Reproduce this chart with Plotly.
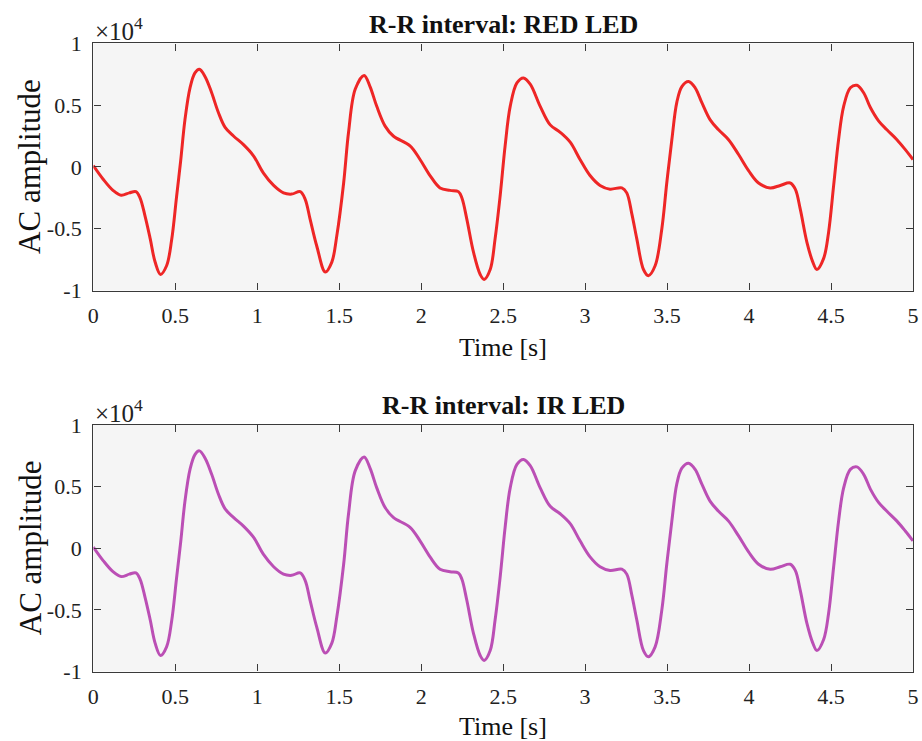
import plotly.graph_objects as go

# Time axis (s) and AC amplitude (raw units; axis shows x10^4)
time_s = [0.00, 0.06, 0.12, 0.17, 0.22, 0.26, 0.285, 0.316, 0.347, 0.377, 0.41, 0.447, 0.478, 0.508,
          0.533, 0.559, 0.59, 0.62, 0.647, 0.682, 0.722, 0.763, 0.804, 0.855, 0.916, 0.977, 1.038,
          1.10, 1.16, 1.21, 1.262, 1.292, 1.322, 1.363, 1.415, 1.455, 1.485, 1.527, 1.557, 1.598,
          1.652, 1.688, 1.729, 1.78, 1.83, 1.932, 1.993, 2.054, 2.115, 2.176, 2.227, 2.248, 2.278,
          2.319, 2.36, 2.384, 2.421, 2.451, 2.482, 2.512, 2.543, 2.584, 2.624, 2.665, 2.726, 2.787,
          2.848, 2.909, 2.969, 3.03, 3.091, 3.152, 3.224, 3.254, 3.285, 3.315, 3.356, 3.386, 3.427,
          3.468, 3.498, 3.529, 3.559, 3.59, 3.631, 3.671, 3.712, 3.763, 3.814, 3.875, 3.936, 3.997,
          4.058, 4.129, 4.19, 4.251, 4.282, 4.312, 4.353, 4.389, 4.414, 4.455, 4.485, 4.516, 4.546,
          4.577, 4.618, 4.658, 4.699, 4.74, 4.791, 4.841, 4.902, 4.953, 5.0]

red_amp = [100, -1000, -1900, -2300, -2100, -2000, -2500, -4000, -5800, -7700, -8700, -8000, -5900, -2400,
           500, 3800, 6400, 7600, 7900, 7300, 6000, 4400, 3200, 2500, 1800, 900, -500,
           -1500, -2100, -2200, -2000, -2600, -4200, -6400, -8500, -7700, -5600, -1300, 2800, 6300,
           7400, 6500, 4900, 3300, 2500, 1700, 600, -700, -1700, -1900, -2000, -2500, -4200,
           -6900, -8700, -9100, -8300, -5800, -2300, 1700, 4900, 6800, 7200, 6700, 4900, 3400,
           2800, 2000, 600, -700, -1500, -1800, -1700, -2100, -3800, -5800, -8300, -8800, -8000,
           -5000, -1300, 2200, 5200, 6500, 6900, 6400, 5200, 3800, 3000, 2200, 1000, -300,
           -1300, -1700, -1500, -1300, -1800, -3400, -6100, -7700, -8300, -7400, -5300, -1500, 2200,
           4900, 6400, 6600, 6000, 4800, 3700, 3000, 2200, 1400, 600]

# IR LED trace reads identical to the RED LED trace in the picture
ir_amp = list(red_amp)

x_ticks = [0, 0.5, 1, 1.5, 2, 2.5, 3, 3.5, 4, 4.5, 5]
x_ticktext = ["0", "0.5", "1", "1.5", "2", "2.5", "3", "3.5", "4", "4.5", "5"]
y_ticks = [-10000, -5000, 0, 5000, 10000]
y_ticktext = ["-1", "-0.5", "0", "0.5", "1"]

titles = ["R-R interval: RED LED", "R-R interval: IR LED"]
W, H = 922, 741
FONT = "Liberation Serif"
AX = "#3a3a3a"

fig = go.Figure()
fig.add_trace(go.Scatter(x=time_s, y=red_amp, mode="lines", xaxis="x", yaxis="y",
                         line=dict(color="#EE2626", width=3, shape="spline", smoothing=1),
                         showlegend=False, hoverinfo="skip"))
fig.add_trace(go.Scatter(x=time_s, y=ir_amp, mode="lines", xaxis="x2", yaxis="y2",
                         line=dict(color="#BB4FB5", width=3, shape="spline", smoothing=1),
                         showlegend=False, hoverinfo="skip"))

left, right = 93.3, 913
panels = [(43.3, 290.5), (425, 671.5)]
xlabel_gap = [57, 55]

def xax(anchor, dom):
    return dict(domain=dom, anchor=anchor, range=[0, 5], tickvals=x_ticks, ticktext=x_ticktext,
                ticks="inside", ticklen=7, tickwidth=1.2, tickcolor=AX, showline=True, linecolor=AX,
                linewidth=1.4, mirror="ticks", showgrid=False, zeroline=False, ticklabelstandoff=5,
                automargin=False,
                tickfont=dict(family=FONT, size=22, color="#222222"), fixedrange=True)

def yax(anchor, dom):
    return dict(domain=dom, anchor=anchor, range=[-10000, 10000], tickvals=y_ticks, ticktext=y_ticktext,
                ticks="inside", ticklen=7, tickwidth=1.2, tickcolor=AX, showline=True, linecolor=AX,
                linewidth=1.4, mirror="ticks", showgrid=False, zeroline=False, ticklabelstandoff=6,
                automargin=False,
                tickfont=dict(family=FONT, size=22, color="#222222"), fixedrange=True)

xdom = [left / W, right / W]
ydoms = [[1 - b / H, 1 - t / H] for (t, b) in panels]

annotations = []
cx = (left + right) / 2 / W
for i, (t, b) in enumerate(panels):
    annotations.append(dict(text="<b>" + titles[i] + "</b>", xref="paper", yref="paper",
                            x=cx, y=1 - (t - 19) / H, xanchor="center", yanchor="middle",
                            showarrow=False, font=dict(family=FONT, size=26, color="#111111")))
    annotations.append(dict(text="×10<sup>4</sup>", xref="paper", yref="paper",
                            x=(left) / W, y=1 - (t - 14) / H, xanchor="left", yanchor="middle",
                            showarrow=False, font=dict(family=FONT, size=25, color="#222222")))
    annotations.append(dict(text="AC amplitude", xref="paper", yref="paper", textangle=-90,
                            x=30 / W, y=1 - ((t + b) / 2) / H, xanchor="center", yanchor="middle",
                            showarrow=False, font=dict(family=FONT, size=31, color="#111111")))
    annotations.append(dict(text="Time [s]", xref="paper", yref="paper",
                            x=cx, y=1 - (b + xlabel_gap[i]) / H, xanchor="center", yanchor="middle",
                            showarrow=False, font=dict(family=FONT, size=26, color="#111111")))

fig.update_layout(
    width=W, height=H, margin=dict(l=0, r=0, t=0, b=0, autoexpand=False),
    paper_bgcolor="white", plot_bgcolor="#F5F5F5",
    xaxis=xax("y", xdom), yaxis=yax("x", ydoms[0]),
    xaxis2=xax("y2", xdom), yaxis2=yax("x2", ydoms[1]),
    annotations=annotations, showlegend=False,
)

fig.write_html(
    "out.html",
    post_script="document.documentElement.style.margin='0';document.body.style.margin='0';"
                "document.documentElement.style.overflow='hidden';document.body.style.overflow='hidden';",
)
